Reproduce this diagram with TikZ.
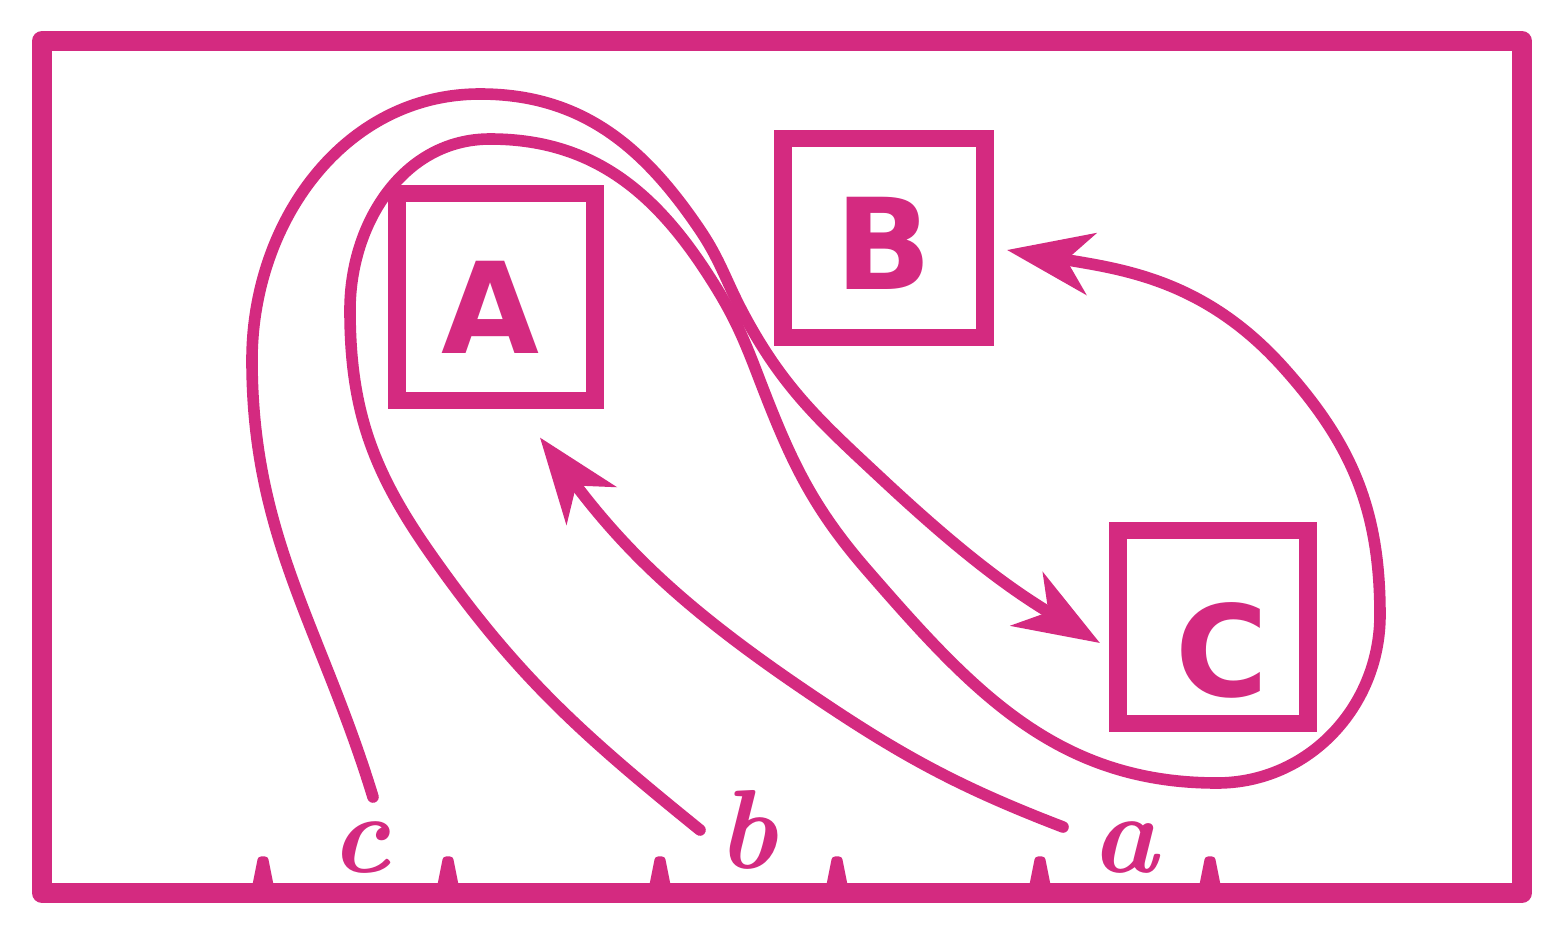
\documentclass[tikz,border=0pt]{standalone}
\usepackage{fontspec}
\newfontfamily\boxfont{DejaVu Sans}
\usetikzlibrary{arrows.meta}
\definecolor{ink}{RGB}{212,42,128}
\begin{document}
\begin{tikzpicture}[x=0.01cm,y=-0.01cm,
  box/.style={draw=ink, line width=5pt, inner sep=0pt, outer sep=0pt},
  letter/.style={text=ink, inner sep=0pt, font=\boxfont\bfseries\fontsize{36}{36}\selectfont},
  link/.style={draw=ink, line width=3.3pt, line cap=round, line join=round},
  arr/.style={link, -{Stealth[length=0.85cm,width=0.62cm,inset=0.25cm]}},
  lab/.style={text=ink, font=\fontsize{32}{32}\selectfont\bfseries\itshape, anchor=base, inner sep=0pt},
  tickmark/.style={fill=ink, draw=ink, line width=2pt, line join=round},
  frame/.style={draw=ink, line width=5.7pt, line join=round}]
\fill[white] (0,0) rectangle (1559,930);
\useasboundingbox (0,0) rectangle (1559,930);
% frame and ticks
\draw[frame] (42,41) rectangle (1522,893);
\foreach \x in {263,448,660,837,1040,1210}
  \filldraw[tickmark] (\x-8,890) -- (\x-2,860) -- (\x+2,860) -- (\x+8,890) -- cycle;
% boxes
\node[box, minimum width=1.98cm, minimum height=2.07cm,
  label={[letter, shift={(-6,10)}]center:A}] (A) at (496,297) {};
\node[box, minimum width=2.02cm, minimum height=1.99cm,
  label={[letter, shift={(0,5)}]center:B}] (B) at (884,238) {};
\node[box, minimum width=1.90cm, minimum height=1.93cm,
  label={[letter, shift={(9,23)}]center:C}] (C) at (1213,627) {};
% labels
\node[lab] (lc) at (360,872) {c};
\node[lab] (lb) at (747,868) {b};
\node[lab] (la) at (1125,872) {a};
% connector ends
\coordinate (cs) at (373,797);
\coordinate (bs) at (700,830);
\coordinate (as) at (1063,827);
\coordinate (tA) at ([shift={(44,37)}]A.south);
\coordinate (tB) at ([shift={(22,12)}]B.east);
\coordinate (tC) at ([shift={(-18,16)}]C.west);
% c -> C
\draw[arr] (cs) to[out=107,in=-90] (252,360) to[out=90,in=180] (480,94)
  to[out=0,in=124] (700,230) to[out=-56,in=118] (743,313)
  to[out=-62,in=137] (883,480) to[out=-43,in=149] (tC);
% b -> B
\draw[arr] (bs) to[out=141,in=-55] (430,553) to[out=125,in=-90] (350,310)
  to[out=90,in=180] (490,139) to[out=0,in=123] (707,273)
  to[out=-57,in=111] (757,373) to[out=-69,in=131] (867,570)
  to[out=-49,in=180] (1217,783) to[out=0,in=-90] (1380,615)
  to[out=90,in=-48] (1283,367) to[out=132,in=-9.4] (tB);
% a -> A
\draw[arr] (as) to[out=159,in=-34.3] (800,687) to[out=145.7,in=-53] (tA);
\end{tikzpicture}
\end{document}
